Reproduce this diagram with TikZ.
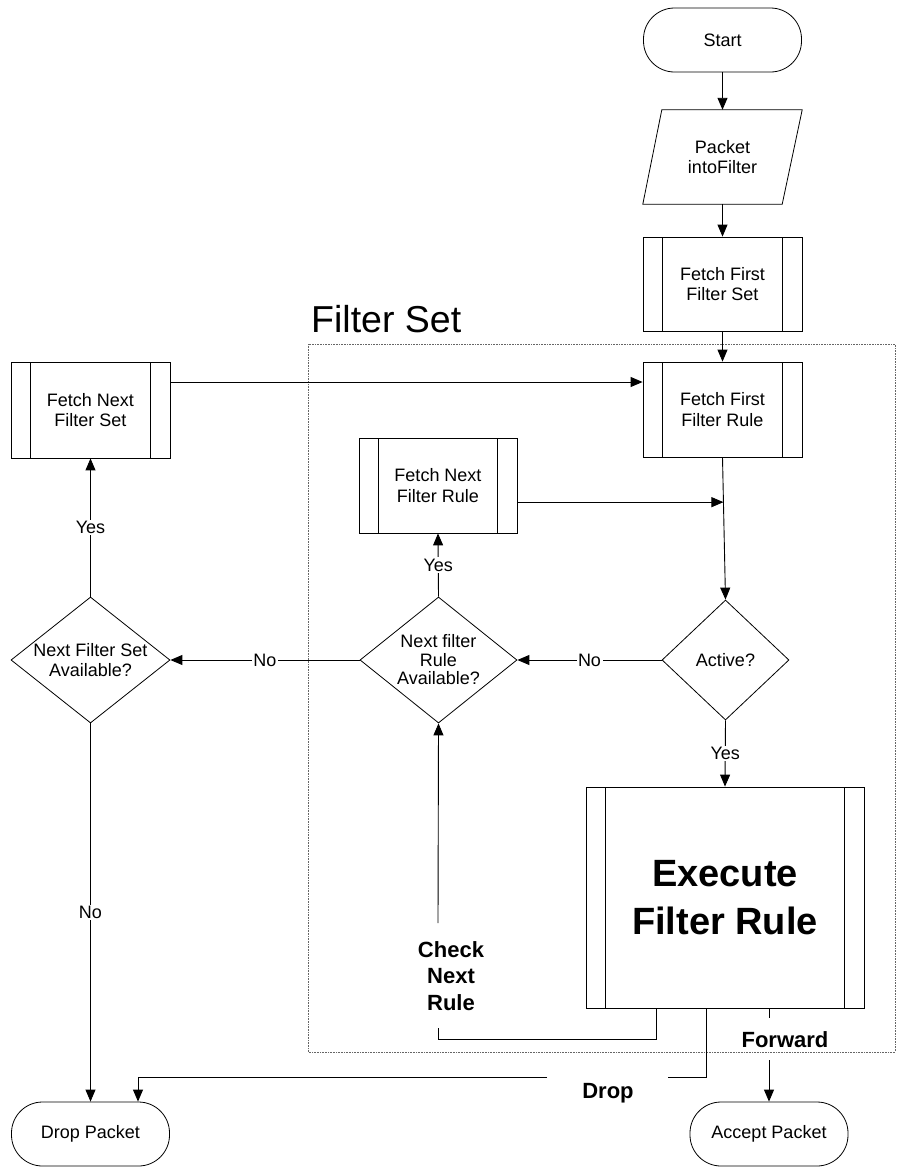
\documentclass[tikz,border=0pt]{standalone}
\usepackage{fontspec}
\setmainfont{Liberation Sans}
\usetikzlibrary{arrows.meta,shapes.geometric,calc}
\begin{document}
\begin{tikzpicture}[x=1pt,y=-1pt,
  every node/.style={font=\fontsize{18}{20.5}\selectfont},
  base/.style={draw, line width=0.8pt, inner sep=0pt, align=center},
  proc/.style={base, rectangle,
    path picture={\draw[line width=0.8pt]
      ([xshift=19pt]path picture bounding box.north west) -- ([xshift=19pt]path picture bounding box.south west)
      ([xshift=-20pt]path picture bounding box.north east) -- ([xshift=-20pt]path picture bounding box.south east);}},
  term/.style={base, rectangle, rounded corners=31pt, minimum width=158pt, minimum height=64pt},
  dec/.style={draw, line width=0.8pt, diamond, inner sep=0pt},
  arr/.style={line width=0.9pt, -{Triangle[length=12pt,width=10pt]}},
  ln/.style={line width=0.9pt},
  lbl/.style={fill=white, inner sep=1.5pt},
  bold/.style={font=\fontsize{22}{26.7}\selectfont\bfseries, align=center, inner sep=0pt}
]
\useasboundingbox (0,0) rectangle (904,1173);

% frame of the filter set
\draw[densely dotted, line width=0.6pt, black!60] (308,344) rectangle (895,1052);
\node[anchor=base west, inner sep=0pt, font=\fontsize{37.5}{40}\selectfont] (title) at (311,332) {Filter Set};

% nodes
\node[term] (start) at (722.5,40) {Start};
\node[inner sep=0pt, minimum width=159pt, minimum height=94pt, align=center] (pkt) at (722.5,157) {Packet\\intoFilter};
\draw[line width=0.8pt] ([xshift=19pt]pkt.north west) -- (pkt.north east) -- ([xshift=-20pt]pkt.south east) -- (pkt.south west) -- cycle;
\node[proc, minimum width=159pt, minimum height=94pt] (ffs) at (722.5,284) {Fetch First\\Filter Set};
\node[proc, minimum width=159pt, minimum height=95pt] (ffr) at (722.5,409.5) {Fetch First\\Filter Rule};
\node[proc, minimum width=159pt, minimum height=96pt] (fns) at (90.5,410) {Fetch Next\\Filter Set};
\node[proc, minimum width=158pt, minimum height=95pt] (fnr) at (438,485.5) {Fetch Next\\Filter Rule};

\node[dec, minimum width=127pt, minimum height=120pt,
  label={center:Active?}] (active) at (725.5,660) {};
\node[dec, minimum width=157pt, minimum height=126pt,
  label={[align=center, font=\fontsize{18}{18.5}\selectfont]center:Next filter\\Rule\\Available?}] (nfr) at (438.5,660) {};
\node[dec, minimum width=159pt, minimum height=126pt,
  label={[align=center]center:Next Filter Set\\Available?}] (nfs) at (90.5,660) {};

\node[proc, minimum width=278pt, minimum height=221pt,
  font=\fontsize{38}{48}\selectfont\bfseries] (exe) at (725,897.5) {Execute\\Filter Rule};

\node[term] (drop) at (90.5,1134) {Drop Packet};
\node[term] (accept) at (769,1134) {Accept Packet};

% labels for the outcomes of the rule
\node[bold] (chk) at (451,976) {Check\\Next\\Rule};
\node[bold, anchor=base] (droplbl) at (608,1098) {Drop};
\node[bold, anchor=base] (fwdlbl) at (785,1047) {Forward};

% coordinates
\coordinate (y382) at (0,382);
\coordinate (j) at ($(ffr.south)!0.3147!(active.north)$);
\coordinate (c1) at (438,1039);
\coordinate (cBot) at (438,1028);
\coordinate (cTop) at (438,923);
\coordinate (d1) at (668,1077);
\coordinate (d2) at (547,1077);
\coordinate (f1) at (769,1018);
\coordinate (f2) at (769,1060);

% connectors
\draw[arr] (start) -- (pkt);
\draw[arr] (pkt) -- (ffs);
\draw[arr] (ffs) -- (ffr);
\draw[arr] (ffr.south) -- (active.north);
\draw[arr] (fns.east |- y382) -- (ffr.west |- y382);
\draw[arr] (fnr.east |- j) -- (j);
\draw[arr] (active.west) -- node[lbl]{No} (nfr.east);
\draw[arr] (nfr.west) -- node[lbl]{No} (nfs.east);
\draw[arr] (nfr.north) -- node[lbl]{Yes} (fnr.south);
\draw[arr] (nfs.north) -- node[lbl]{Yes} (fns.south);
\draw[arr] (nfs.south) -- node[lbl]{No} ([xshift=0pt]drop.north);
\draw[arr] (active.south) -- node[lbl]{Yes} (exe.north);

\draw[ln] ([xshift=-69pt]exe.south) |- (c1) -- (cBot);
\draw[arr] (cTop) -- (nfr.south);
\draw[ln] ([xshift=-19pt]exe.south) |- (d1);
\draw[arr] (d2) -| ([xshift=47.5pt]drop.north);
\draw[ln] ([xshift=44pt]exe.south) -- (f1);
\draw[arr] (f2) -- (accept.north);
\end{tikzpicture}
\end{document}
